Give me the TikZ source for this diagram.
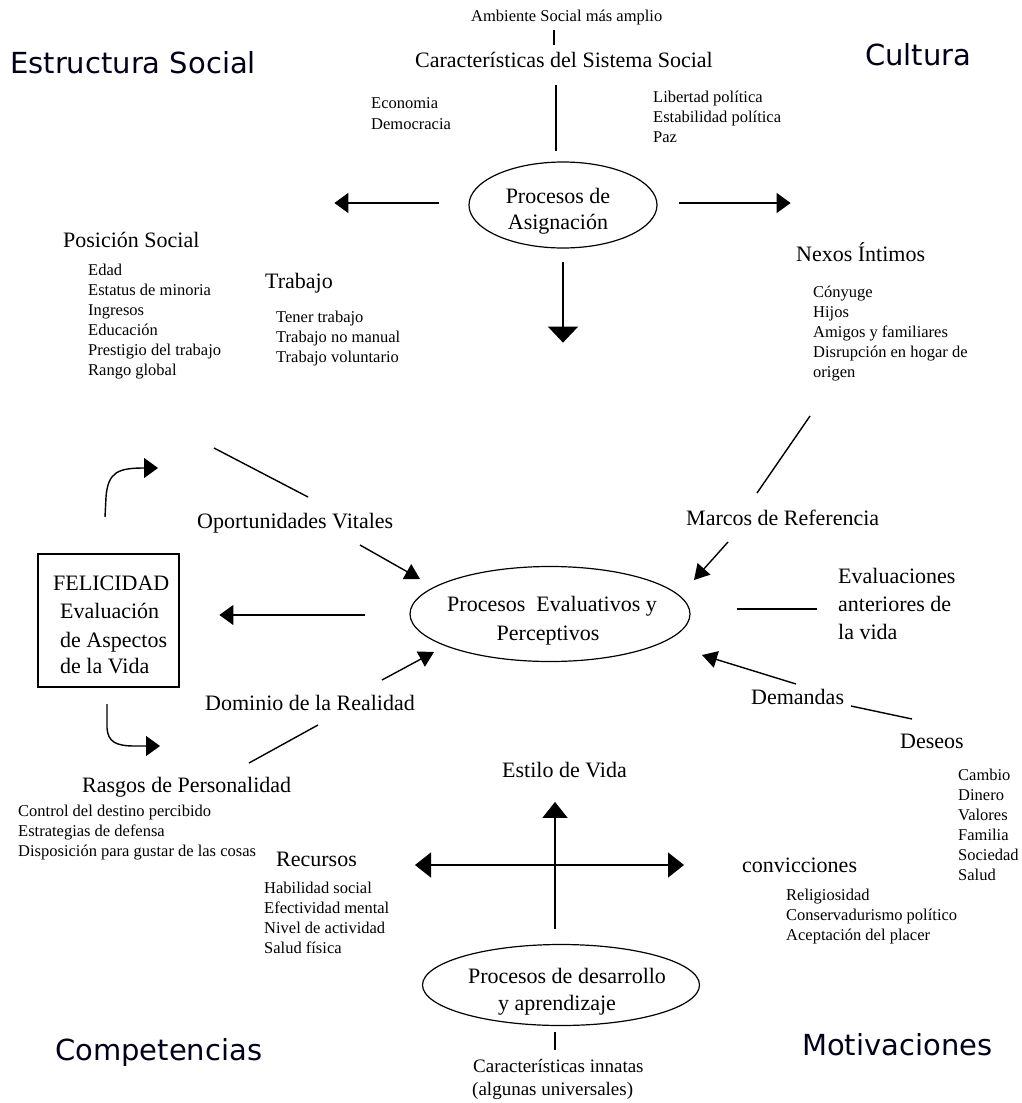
\documentclass[tikz,border=0pt]{standalone}
\usepackage{fontspec}
\setmainfont{Liberation Serif}
\newfontfamily\titlefam{DejaVu Sans}
\usetikzlibrary{arrows.meta,shapes.geometric}
\tikzset{
  txtbig/.style={anchor=base west, inner sep=0pt, font=\fontsize{22}{26}\selectfont},
  txtbigc/.style={anchor=base, inner sep=0pt, font=\fontsize{22}{26}\selectfont},
  txtsmall/.style={anchor=base west, inner sep=0pt, font=\fontsize{16.5}{20}\selectfont},
  txtmid/.style={anchor=base west, inner sep=0pt, font=\fontsize{19}{23}\selectfont},
  txttitle/.style={anchor=base west, inner sep=0pt, font=\titlefam\fontsize{29}{34}\selectfont, text=black!90!blue},
  conn/.style={line width=1.4pt},
  arrA/.style={conn, -{Triangle[length=14pt,width=20pt]}},
  arrB/.style={conn, -{Triangle[length=16pt,width=30pt]}},
  arrC/.style={conn, -{Triangle[length=15pt,width=17pt]}},
  arrD/.style={conn, -{Triangle[length=16pt,width=25pt]}},
  arrDD/.style={conn, {Triangle[length=16pt,width=25pt]}-{Triangle[length=16pt,width=25pt]}},
  ell/.style={draw, ellipse, line width=1.2pt, inner sep=0pt},
}
\begin{document}
\begin{tikzpicture}[x=1pt,y=-1pt]
\useasboundingbox (0,0) rectangle (1021,1103);
\fill[white] (0,0) rectangle (1021,1103);

% titles
\node[txttitle] (tES) at (10,73) {Estructura Social};
\node[txttitle] (tCu) at (865,65) {Cultura};
\node[txttitle] (tCo) at (55,1060) {Competencias};
\node[txttitle] (tMo) at (802,1055) {Motivaciones};

% top block
\node[txtsmall] (amb) at (471,21) {Ambiente Social más amplio};
\node[txtbig] (car) at (415,67) {Características del Sistema Social};
\foreach \t [count=\i] in {Economia,Democracia}
  \node[txtsmall] (eco\i) at (371,{87+21*\i}) {\t};
\foreach \t [count=\i] in {Libertad política,Estabilidad política,Paz}
  \node[txtsmall] (lib\i) at (653,{82+20*\i}) {\t};

\node[ell, minimum width=188pt, minimum height=86pt] (eA) at (563,205) {};
\node[txtbigc] (eAt1) at (558,203) {Procesos de};
\node[txtbigc] (eAt2) at (558,229) {Asignación};

% upper left / right
\node[txtbig] (pos) at (63,247) {Posición Social};
\foreach \t [count=\i] in {Edad,Estatus de minoria,Ingresos,Educación,Prestigio del trabajo,Rango global}
  \node[txtsmall] (pos\i) at (88,{255+20*\i}) {\t};
\node[txtbig] (tra) at (265,288) {Trabajo};
\foreach \t [count=\i] in {Tener trabajo,Trabajo no manual,Trabajo voluntario}
  \node[txtsmall] (tra\i) at (276,{302+20*\i}) {\t};
\node[txtbig] (nex) at (796,261) {Nexos Íntimos};
\foreach \t [count=\i] in {Cónyuge,Hijos,Amigos y familiares,Disrupción en hogar de,origen}
  \node[txtsmall] (nex\i) at (813,{277+20*\i}) {\t};

% middle
\node[txtbig] (opo) at (197,528) {Oportunidades Vitales};
\node[txtbig] (mar) at (686,525) {Marcos de Referencia};
\node[draw, line width=1.2pt, minimum width=141pt, minimum height=133pt, inner sep=0pt] (fel) at (108.5,620.5) {};
\node[txtbig] (fel1) at (53,590) {FELICIDAD};
\node[txtbig] (fel2) at (60,618) {Evaluación};
\node[txtbig] (fel3) at (60,647) {de Aspectos};
\node[txtbig] (fel4) at (60,673) {de la Vida};

\node[ell, minimum width=280pt, minimum height=95pt] (eB) at (550,614) {};
\node[txtbigc] (eBt1) at (552,611) {Procesos\ \ Evaluativos y};
\node[txtbigc] (eBt2) at (548,640) {Perceptivos};

\node[txtbig] (ev1) at (838,583) {Evaluaciones};
\node[txtbig] (ev2) at (838,611) {anteriores de};
\node[txtbig] (ev3) at (838,639) {la vida};

\node[txtbig] (dom) at (205,710) {Dominio de la Realidad};
\node[txtbig] (dem) at (751,704) {Demandas};
\node[txtbig] (des) at (900,748) {Deseos};
\foreach \t [count=\i] in {Cambio,Dinero,Valores,Familia,Sociedad,Salud}
  \node[txtsmall] (des\i) at (958,{760+20*\i}) {\t};

% lower
\node[txtbig] (ras) at (82,792) {Rasgos de Personalidad};
\foreach \t [count=\i] in {Control del destino percibido,Estrategias de defensa,Disposición para gustar de las cosas}
  \node[txtsmall] (ras\i) at (18,{796+20*\i}) {\t};
\node[txtbig] (rec) at (276,866) {Recursos};
\foreach \t [count=\i] in {Habilidad social,Efectividad mental,Nivel de actividad,Salud física}
  \node[txtsmall] (rec\i) at (264,{873+20*\i}) {\t};
\node[txtbig] (est) at (502,777) {Estilo de Vida};
\node[txtbig] (con) at (742,872) {convicciones};
\foreach \t [count=\i] in {Religiosidad,Conservadurismo político,Aceptación del placer}
  \node[txtsmall] (con\i) at (786,{880+20*\i}) {\t};

\node[ell, minimum width=277pt, minimum height=81pt] (eC) at (561,985) {};
\node[txtbigc] (eCt1) at (567,983) {Procesos de desarrollo};
\node[txtbigc] (eCt2) at (557,1010) {y aprendizaje};
\node[txtmid] (inn1) at (473,1072) {Características innatas};
\node[txtmid] (inn2) at (472,1095) {(algunas universales)};

% free ends
\coordinate (posL) at (214,448); \coordinate (posR) at (308,497);
\coordinate (nexA) at (810,416); \coordinate (nexB) at (757,493);
\coordinate (opoA) at (360,545); \coordinate (opoB) at (420,579);
\coordinate (marA) at (728,542); \coordinate (marB) at (694,580);
\coordinate (demA) at (796,684); \coordinate (demB) at (702,655);
\coordinate (desA) at (851,706); \coordinate (desB) at (912,719);
\coordinate (domA) at (382,680); \coordinate (domB) at (434,652);
\coordinate (rasA) at (249,763); \coordinate (rasB) at (318,725);
\coordinate (recA) at (415,865); \coordinate (conA) at (684,865);
\coordinate (cuA) at (105,517); \coordinate (cuB) at (158,468);
\coordinate (clA) at (107,704); \coordinate (clB) at (160,746);

% connectors
\draw[conn] (554,30) -- (554,45);
\draw[conn] (556,85) -- (556,151);
\draw[arrA] (eA.west) ++(-29,-2) -- ++(-105,0);
\draw[arrA] (eA.east) ++(21,-2) -- ++(112,0);
\draw[arrB] (eA.south) ++(0,13) -- ++(0,81);
\draw[conn] (posL) -- (posR);
\draw[conn] (nexA) -- (nexB);
\draw[arrA] (cuA) -- (106,497) .. controls (108,472) and (118,468) .. (cuB);
\draw[arrC] (opoA) -- (opoB);
\draw[arrA] (eB.west) ++(-44,1) -- ++(-146,0);
\draw[arrC] (marA) -- (marB);
\draw[conn] (eB.east) ++(46,-5) -- ++(80,0);
\draw[arrC] (demA) -- (demB);
\draw[conn] (desA) -- (desB);
\draw[arrC] (domA) -- (domB);
\draw[conn] (rasA) -- (rasB);
\draw[arrA] (clA) -- (107,728) .. controls (108,742) and (116,746) .. (135,746) -- (clB);
\draw[arrDD] (recA) -- (conA);
\draw[arrD] (eC.north) ++(-6,-15) -- ++(0,-127);
\draw[conn] (eC.south) ++(-6,6) -- ++(0,18);
\end{tikzpicture}
\end{document}
